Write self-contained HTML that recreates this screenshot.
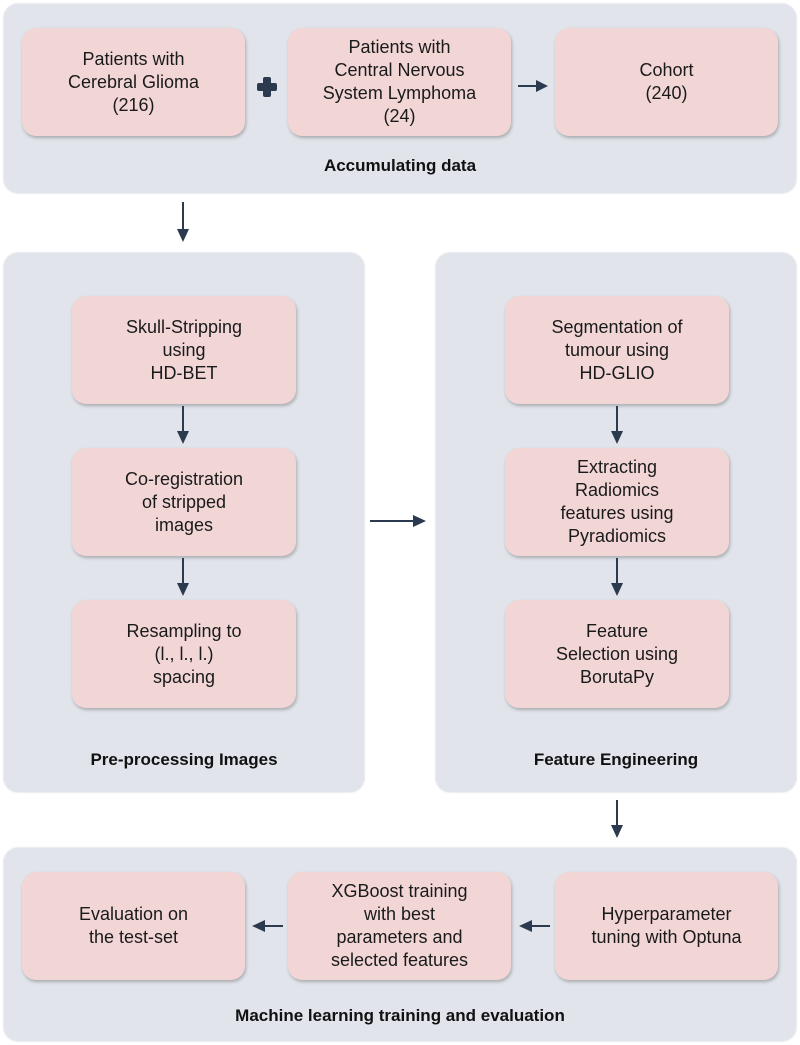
<!DOCTYPE html>
<html><head><style>
body{margin:0;width:800px;height:1045px;background:#fff;position:relative;font-family:"Liberation Sans",sans-serif;overflow:hidden}
.p{position:absolute;background:#e1e4eb;border-radius:14px;box-shadow:0 0 2px #c8ccd4}
.b{position:absolute;background:#f2d6d6;border-radius:14px;box-shadow:1px 2px 3px rgba(0,0,0,.25);display:flex;align-items:center;justify-content:center;text-align:center;font-size:18px;line-height:23px;color:#1a1a1a}
.l{position:absolute;font-weight:bold;font-size:17px;text-align:center;color:#111}
svg{position:absolute;left:0;top:0}
</style></head><body>
<div class="p" style="left:4px;top:4px;width:792px;height:189px"></div>
<div class="p" style="left:4px;top:253px;width:360px;height:539px"></div>
<div class="p" style="left:436px;top:253px;width:360px;height:539px"></div>
<div class="p" style="left:4px;top:848px;width:792px;height:193px"></div>

<div class="b" style="left:22px;top:28px;width:223px;height:108px">Patients with<br>Cerebral Glioma<br>(216)</div>
<div class="b" style="left:288px;top:28px;width:223px;height:108px">Patients with<br>Central Nervous<br>System Lymphoma<br>(24)</div>
<div class="b" style="left:555px;top:28px;width:223px;height:108px">Cohort<br>(240)</div>
<div class="l" style="left:4px;width:792px;top:156px">Accumulating data</div>

<div class="b" style="left:72px;top:296px;width:224px;height:108px">Skull-Stripping<br>using<br>HD-BET</div>
<div class="b" style="left:72px;top:448px;width:224px;height:108px">Co-registration<br>of stripped<br>images</div>
<div class="b" style="left:72px;top:600px;width:224px;height:108px">Resampling to<br>(l., l., l.)<br>spacing</div>
<div class="l" style="left:4px;width:360px;top:750px">Pre-processing Images</div>

<div class="b" style="left:505px;top:296px;width:224px;height:108px">Segmentation of<br>tumour using<br>HD-GLIO</div>
<div class="b" style="left:505px;top:448px;width:224px;height:108px">Extracting<br>Radiomics<br>features using<br>Pyradiomics</div>
<div class="b" style="left:505px;top:600px;width:224px;height:108px">Feature<br>Selection using<br>BorutaPy</div>
<div class="l" style="left:436px;width:360px;top:750px">Feature Engineering</div>

<div class="b" style="left:22px;top:872px;width:223px;height:108px">Evaluation on<br>the test-set</div>
<div class="b" style="left:288px;top:872px;width:223px;height:108px">XGBoost training<br>with best<br>parameters and<br>selected features</div>
<div class="b" style="left:555px;top:872px;width:223px;height:108px">Hyperparameter<br>tuning with Optuna</div>
<div class="l" style="left:4px;width:792px;top:1006px">Machine learning training and evaluation</div>

<svg width="800" height="1045" fill="#2c3a4f" stroke="#2c3a4f">
<rect x="263" y="77" width="8" height="20" rx="2" stroke="none"/>
<rect x="257" y="83" width="20" height="8" rx="2" stroke="none"/>
<g stroke-width="2">
<line x1="518" y1="86" x2="538" y2="86"/>
<line x1="183" y1="202" x2="183" y2="230"/>
<line x1="183" y1="406" x2="183" y2="432"/>
<line x1="183" y1="558" x2="183" y2="584"/>
<line x1="617" y1="406" x2="617" y2="432"/>
<line x1="617" y1="558" x2="617" y2="584"/>
<line x1="370" y1="521" x2="414" y2="521"/>
<line x1="617" y1="800" x2="617" y2="826"/>
<line x1="283" y1="926" x2="264" y2="926"/>
<line x1="550" y1="926" x2="531" y2="926"/>
</g>
<g stroke="none">
<polygon points="548,86 536,80 536,92"/>
<polygon points="183,242 177,229 189,229"/>
<polygon points="183,444 177,431 189,431"/>
<polygon points="183,596 177,583 189,583"/>
<polygon points="617,444 611,431 623,431"/>
<polygon points="617,596 611,583 623,583"/>
<polygon points="426,521 413,515 413,527"/>
<polygon points="617,838 611,825 623,825"/>
<polygon points="252,926 265,920 265,932"/>
<polygon points="519,926 532,920 532,932"/>
</g>
</svg>
</body></html>
